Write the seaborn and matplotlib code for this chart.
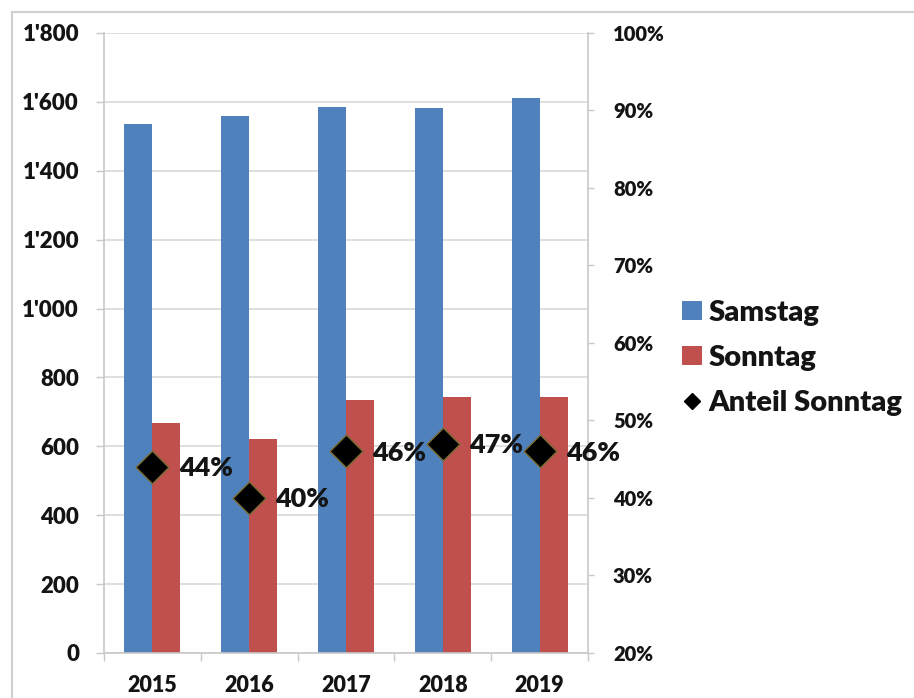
import matplotlib
matplotlib.use("Agg")
import matplotlib.pyplot as plt
from matplotlib.patches import Patch
from matplotlib.lines import Line2D
import numpy as np
import pandas as pd
import seaborn as sns

# Data
years = ["2015", "2016", "2017", "2018", "2019"]
samstag = [1535, 1558, 1585, 1582, 1610]
sonntag = [668, 622, 735, 743, 742]
anteil_sonntag = [0.44, 0.40, 0.46, 0.47, 0.46]
series_names = ["Samstag", "Sonntag", "Anteil Sonntag"]
left_ticks = [0, 200, 400, 600, 800, 1000, 1200, 1400, 1600, 1800]
right_ticks = [0.2, 0.3, 0.4, 0.5, 0.6, 0.7, 0.8, 0.9, 1.0]

BLUE = "#4F81BD"
RED = "#C0504D"
GRID = "#D9D9D9"
AXIS = "#C8C8C8"
TEXT = "#141414"
FONT = ["Lato", "DejaVu Sans"]

sns.set_theme(style="white")
plt.rcParams["font.family"] = FONT

df = pd.DataFrame({
    "Jahr": years * 2,
    "Anzahl": samstag + sonntag,
    "Tag": [series_names[0]] * len(years) + [series_names[1]] * len(years),
})

fig = plt.figure(figsize=(9.14, 6.98), dpi=100)
ax = fig.add_axes([0.1138, 0.0645, 0.5295, 0.8883])

# Grouped bars: Saturday and Sunday counts per year
sns.barplot(data=df, x="Jahr", y="Anzahl", hue="Tag", order=years,
            hue_order=series_names[:2], palette=[BLUE, RED],
            width=0.58, saturation=1, errorbar=None, legend=False, ax=ax,
            linewidth=0, zorder=2)

# Secondary axis with the Sunday share as diamonds
ax2 = ax.twinx()
sns.scatterplot(x=np.arange(len(years)), y=anteil_sonntag, ax=ax2,
                marker="D", s=280, color="black", edgecolor="#7A6B32",
                linewidth=1.0, zorder=5, legend=False)
for i, v in enumerate(anteil_sonntag):
    ax2.annotate(f"{v:.0%}", xy=(i, v), xytext=(19, -1),
                 textcoords="offset points", ha="left", va="center",
                 fontsize=19.5, fontweight="heavy", color=TEXT, zorder=6)

# Primary axis formatting
ax.set_xlim(-0.5, len(years) - 0.5)
ax.set_ylim(0, 1800)
ax.set_xlabel("")
ax.set_ylabel("")
ax.set_yticks(left_ticks,
              labels=[f"{v:,}".replace(",", "'") for v in left_ticks],
              fontsize=16, fontweight="heavy", color=TEXT)
ax.set_xticks(range(len(years)), labels=years,
              fontsize=15.5, fontweight="heavy", color=TEXT)
ax.set_xticks(np.arange(-0.5, len(years), 1.0), minor=True)
ax.tick_params(axis="x", which="major", length=0, pad=16)
ax.tick_params(axis="x", which="minor", length=6, width=1, color=AXIS,
               direction="out", bottom=True)
ax.tick_params(axis="y", which="major", length=6, width=1, color=AXIS,
               direction="out", left=True, pad=12)
ax.grid(axis="y", color=GRID, linewidth=1.2, zorder=0)
ax.set_axisbelow(True)
for side in ["left", "right", "bottom"]:
    ax.spines[side].set_color(AXIS)
    ax.spines[side].set_linewidth(1.2)
ax.spines["top"].set_visible(False)

# Secondary axis formatting
ax2.set_ylim(0.2, 1.0)
ax2.set_yticks(right_ticks, labels=[f"{v:.0%}" for v in right_ticks],
               fontsize=14.5, fontweight="heavy", color=TEXT)
ax2.tick_params(axis="y", length=4, width=1, color=AXIS, direction="out",
                pad=14)
ax2.set_ylabel("")
for side in ["left", "right", "bottom", "top"]:
    ax2.spines[side].set_visible(False)
ax2.grid(False)

# Legend
handles = [
    Patch(facecolor=BLUE, edgecolor="none"),
    Patch(facecolor=RED, edgecolor="none"),
    Line2D([0], [0], marker="D", color="black", linestyle="none",
           markersize=8.5),
]
leg = fig.legend(handles, series_names, loc="center left",
                 bbox_to_anchor=(0.746, 0.487), frameon=False,
                 prop={"family": FONT, "weight": "heavy", "size": 21},
                 handlelength=0.7, handleheight=0.64, handletextpad=0.22,
                 labelspacing=0.66, borderaxespad=0, borderpad=0)
for t in leg.get_texts():
    t.set_color(TEXT)

# Outer chart frame (top and left edges visible)
fig.add_artist(Line2D([12 / 914, 1.0], [1 - 12 / 698, 1 - 12 / 698],
                      transform=fig.transFigure, color="#D0D0D0", linewidth=1.5))
fig.add_artist(Line2D([12 / 914, 12 / 914], [0.0, 1 - 12 / 698],
                      transform=fig.transFigure, color="#D0D0D0", linewidth=1.5))

fig.savefig("out.png", dpi=100)
